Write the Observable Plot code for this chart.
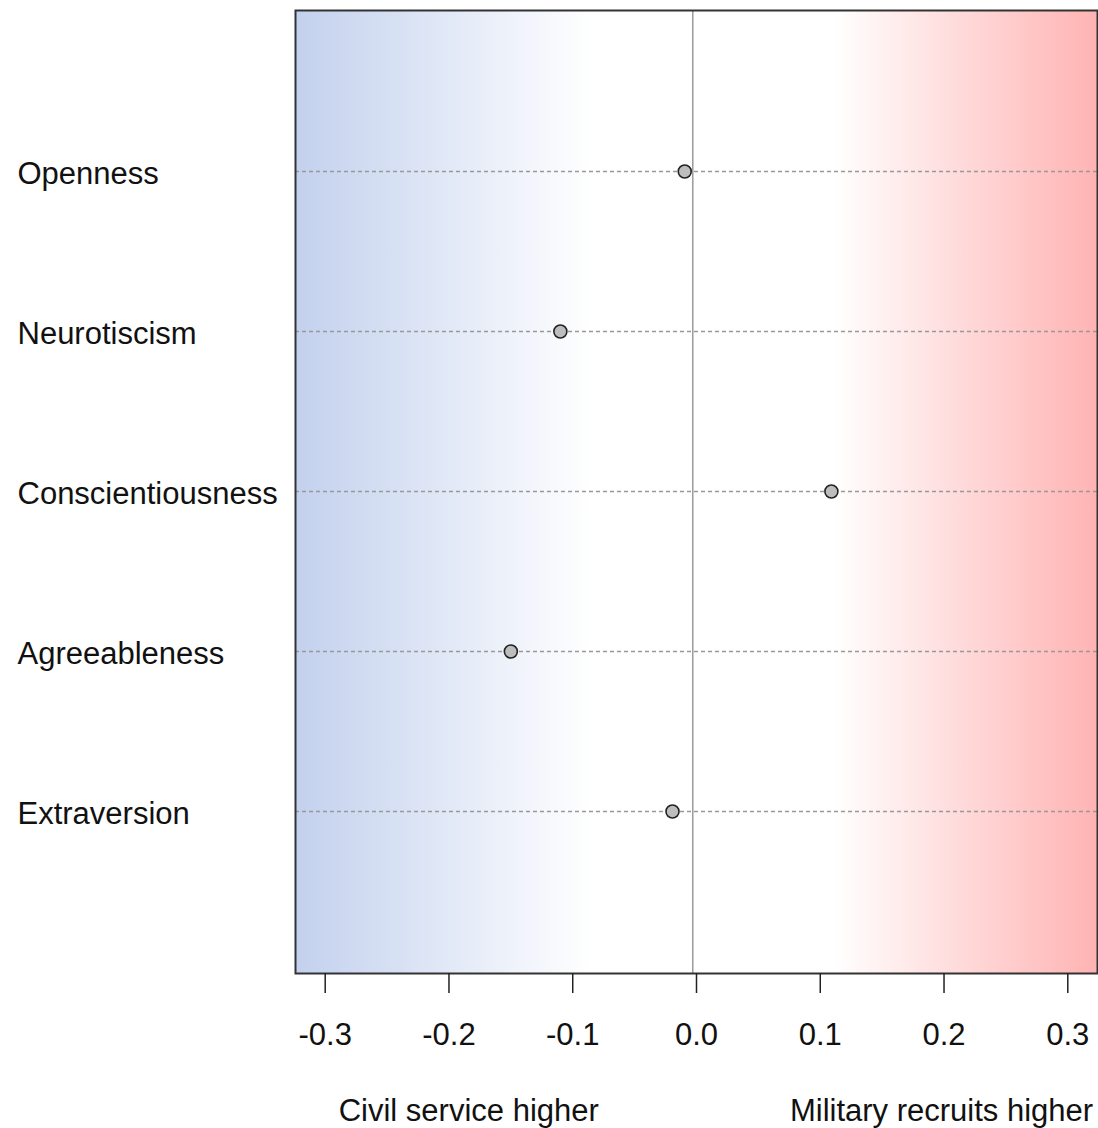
<!DOCTYPE html>
<html>
<head>
<meta charset="utf-8">
<script src="https://cdn.jsdelivr.net/npm/d3@7"></script>
<script src="https://cdn.jsdelivr.net/npm/@observablehq/plot@0.6"></script>
<style>
  html, body { margin: 0; padding: 0; background: #fff; }
  #chart svg { display: block; }
</style>
</head>
<body>
<div id="chart"></div>
<script>
const traits = ["Openness", "Neurotiscism", "Conscientiousness", "Agreeableness", "Extraversion"];
const values = [-0.0095, -0.110, 0.109, -0.150, -0.0194];
const xTicks = [-0.3, -0.2, -0.1, 0.0, 0.1, 0.2, 0.3];
const refLine = [-0.003];
const sideLabels = ["Civil service higher", "Military recruits higher"];
const sideLabelX = [-0.184, 0.198];

const data = traits.map((t, i) => ({trait: t, value: values[i]}));
const sides = sideLabels.map((s, i) => ({label: s, x: sideLabelX[i]}));

const font = "'Liberation Sans', Arial, sans-serif";

const gradientDefs = () => {
  const ns = "http://www.w3.org/2000/svg";
  const defs = document.createElementNS(ns, "defs");
  const lg = document.createElementNS(ns, "linearGradient");
  lg.setAttribute("id", "bgGrad");
  lg.setAttribute("x1", "0"); lg.setAttribute("x2", "1");
  lg.setAttribute("y1", "0"); lg.setAttribute("y2", "0");
  [["0", "#c3d1ee"], ["0.37", "#ffffff"], ["0.67", "#ffffff"], ["1", "#ffb3b3"]].forEach(([o, c]) => {
    const s = document.createElementNS(ns, "stop");
    s.setAttribute("offset", o);
    s.setAttribute("stop-color", c);
    lg.appendChild(s);
  });
  defs.appendChild(lg);
  return defs;
};

const chart = Plot.plot({
  width: 1098,
  height: 1128,
  marginLeft: 295,
  marginRight: 1,
  marginTop: 10,
  marginBottom: 155,
  style: {fontFamily: font, fontSize: "31px", color: "#111", background: "#fff"},
  x: {domain: [-0.324, 0.324], axis: null},
  y: {type: "point", domain: traits, padding: 1, axis: null},
  marks: [
    gradientDefs,
    Plot.frame({fill: "url(#bgGrad)", stroke: "none"}),
    Plot.ruleY(traits, {y: d => d, dy: -1, stroke: "#999", strokeWidth: 1.6, strokeDasharray: "4,3"}),
    Plot.ruleX(refLine, {stroke: "#9a9a9a", strokeWidth: 1.5}),
    Plot.dot(data, {x: "value", y: "trait", dy: -1, r: 6.5, fill: "#bdbdbd", stroke: "#222", strokeWidth: 1.6}),
    Plot.frame({stroke: "#333", strokeWidth: 2}),
    Plot.axisX({
      ticks: xTicks,
      tickSize: 20,
      tickPadding: 29,
      tickFormat: d => d.toFixed(1),
      fontSize: 31,
      stroke: "#222",
      strokeWidth: 1.5,
      fill: "#111"
    }),
    Plot.text(data, {
      text: "trait", y: "trait", frameAnchor: "left", textAnchor: "start",
      dx: -278, dy: 2, fontSize: 31, fill: "#111"
    }),
    Plot.text(sides, {
      text: "label", x: "x", frameAnchor: "bottom", lineAnchor: "bottom",
      dy: 147, fontSize: 31, fill: "#111"
    })
  ]
});
document.getElementById("chart").appendChild(chart);
</script>
</body>
</html>
